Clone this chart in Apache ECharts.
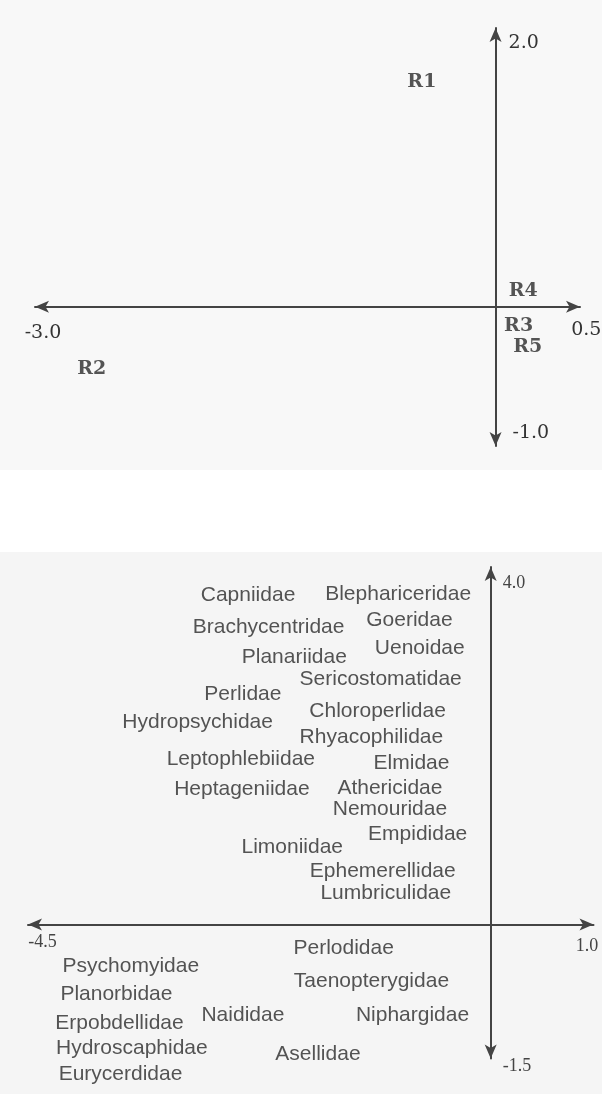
<!DOCTYPE html>
<html>
<head>
<meta charset="utf-8">
<script src="https://cdn.jsdelivr.net/npm/echarts@6/dist/echarts.min.js"></script>
<style>
  html, body { margin: 0; padding: 0; }
  #chart {
    width: 602px; height: 1094px;
    background: linear-gradient(#f8f8f8 0, #f8f8f8 470px, #ffffff 470px, #ffffff 552px, #f5f5f5 552px);
  }
</style>
</head>
<body>
<div id="chart"></div>
<script>
// upper panel: sites
const siteNames = ["R1", "R2", "R3", "R4", "R5"]
const siteX = [-0.48, -2.63, 0.15, 0.18, 0.21]
const siteY = [1.61, -0.45, -0.14, 0.11, -0.29]
const siteXTicks = [-3.0, 0.5]
const siteYTicks = [-1.0, 2.0]

// lower panel: families
const familyNames = [
    "Capniidae", "Blephariceridae", "Brachycentridae", "Goeridae", "Uenoidae",
    "Planariidae", "Sericostomatidae", "Perlidae", "Hydropsychidae", "Chloroperlidae",
    "Rhyacophilidae", "Leptophlebiidae", "Elmidae", "Heptageniidae", "Athericidae",
    "Nemouridae", "Empididae", "Limoniidae", "Ephemerellidae", "Lumbriculidae",
    "Perlodidae", "Psychomyidae", "Taenopterygidae", "Planorbidae", "Naididae",
    "Niphargidae", "Erpobdellidae", "Hydroscaphidae", "Asellidae", "Eurycerdidae"
]
const familyX = [
    -2.36, -0.90, -2.16, -0.79, -0.69,
    -1.91, -1.07, -2.41, -2.85, -1.10,
    -1.16, -2.43, -0.77, -2.42, -0.98,
    -0.98, -0.71, -1.93, -1.05, -1.02,
    -1.43, -3.50, -1.16, -3.64, -2.41,
    -0.76, -3.61, -3.49, -1.68, -3.60
]
const familyY = [
    3.68, 3.69, 3.33, 3.40, 3.09,
    2.99, 2.74, 2.58, 2.26, 2.39,
    2.10, 1.85, 1.80, 1.51, 1.52,
    1.29, 1.01, 0.86, 0.60, 0.35,
    -0.27, -0.47, -0.64, -0.78, -1.01,
    -1.01, -1.10, -1.39, -1.45, -1.68
]
const familyXTicks = [-4.5, 1.0]
const familyYTicks = [-1.5, 4.0]

const axisLine = {
    onZero: false,
    symbol: ["arrow", "arrow"],
    symbolSize: [9, 14],
    lineStyle: {color: "#444", width: 2}
}

const chart = echarts.init(document.getElementById("chart"))

chart.setOption({
    animation: false,
    grid: [
        {left: 35, width: 545, top: 28, height: 418, outerBoundsMode: "none", containLabel: false},
        {left: 28, width: 565.5, top: 567, height: 491.5, outerBoundsMode: "none", containLabel: false}
    ],
    xAxis: [
        {
            gridIndex: 0, type: "value", min: -3.0, max: 0.55,
            axisLine, axisTick: {show: false}, splitLine: {show: false},
            axisLabel: {
                customValues: siteXTicks, margin: 15, lineHeight: 16,
                fontFamily: "DejaVu Serif", fontSize: 19, color: "#333",
                formatter: v => v < 0 ? `{lo|${v.toFixed(1)}}` : `{hi|${v.toFixed(1)}}`,
                rich: {lo: {padding: [7, 0, 0, 16]}, hi: {padding: [0, 0, 0, 28]}}
            }
        },
        {
            gridIndex: 1, type: "value", min: -4.5, max: 1.0,
            axisLine, axisTick: {show: false}, splitLine: {show: false},
            axisLabel: {
                customValues: familyXTicks, margin: 10, lineHeight: 16,
                fontFamily: "Liberation Serif", fontSize: 18, color: "#444",
                formatter: v => v < 0 ? `{lo|${v.toFixed(1)}}` : `{hi|${v.toFixed(1)}}`,
                rich: {lo: {padding: [0, 0, 0, 29]}, hi: {padding: [7, 13, 0, 0]}}
            }
        }
    ],
    yAxis: [
        {
            gridIndex: 0, type: "value", min: -1.0, max: 2.0,
            axisLine, axisTick: {show: false}, splitLine: {show: false},
            axisLabel: {
                inside: true, customValues: siteYTicks, margin: 13, lineHeight: 16,
                fontFamily: "DejaVu Serif", fontSize: 19, color: "#333",
                formatter: v => v > 0 ? `{hi|${v.toFixed(1)}}` : `{lo|${v.toFixed(1)}}`,
                rich: {hi: {padding: [30, 0, 0, 0]}, lo: {padding: [0, 0, 26, 4]}}
            }
        },
        {
            gridIndex: 1, type: "value", min: -1.5, max: 4.0,
            axisLine, axisTick: {show: false}, splitLine: {show: false},
            axisLabel: {
                inside: true, customValues: familyYTicks, margin: 12, lineHeight: 16,
                fontFamily: "Liberation Serif", fontSize: 18, color: "#444",
                formatter: v => v > 0 ? `{hi|${v.toFixed(1)}}` : `{lo|${v.toFixed(1)}}`,
                rich: {hi: {padding: [32, 0, 0, 0]}, lo: {padding: [15, 0, 0, 0]}}
            }
        }
    ],
    series: [
        {
            type: "scatter", xAxisIndex: 0, yAxisIndex: 0, clip: false, silent: true,
            symbolSize: 0,
            data: siteNames.map((n, i) => [siteX[i], siteY[i], n]),
            label: {
                show: true, position: "inside", formatter: p => p.data[2],
                fontFamily: "DejaVu Serif", fontWeight: "bold", fontSize: 19, color: "#2a2a2a"
            }
        },
        {
            type: "scatter", xAxisIndex: 1, yAxisIndex: 1, clip: false, silent: true,
            symbolSize: 0,
            data: familyNames.map((n, i) => [familyX[i], familyY[i], n]),
            label: {
                show: true, position: "inside", formatter: p => p.data[2],
                fontFamily: "Liberation Sans", fontSize: 21, color: "#2a2a2a"
            }
        }
    ]
})

// move each axis pair so they cross at the origin, labels included
const mins = [[-3.0, -1.0], [-4.5, -1.5]]
const xOff = [], yOff = []
mins.forEach((m, g) => {
    const corner = chart.convertToPixel({gridIndex: g}, m)
    const origin = chart.convertToPixel({gridIndex: g}, [0, 0])
    xOff.push({offset: -(corner[1] - origin[1])})
    yOff.push({offset: -(origin[0] - corner[0])})
})
chart.setOption({xAxis: xOff, yAxis: yOff})
</script>
</body>
</html>
